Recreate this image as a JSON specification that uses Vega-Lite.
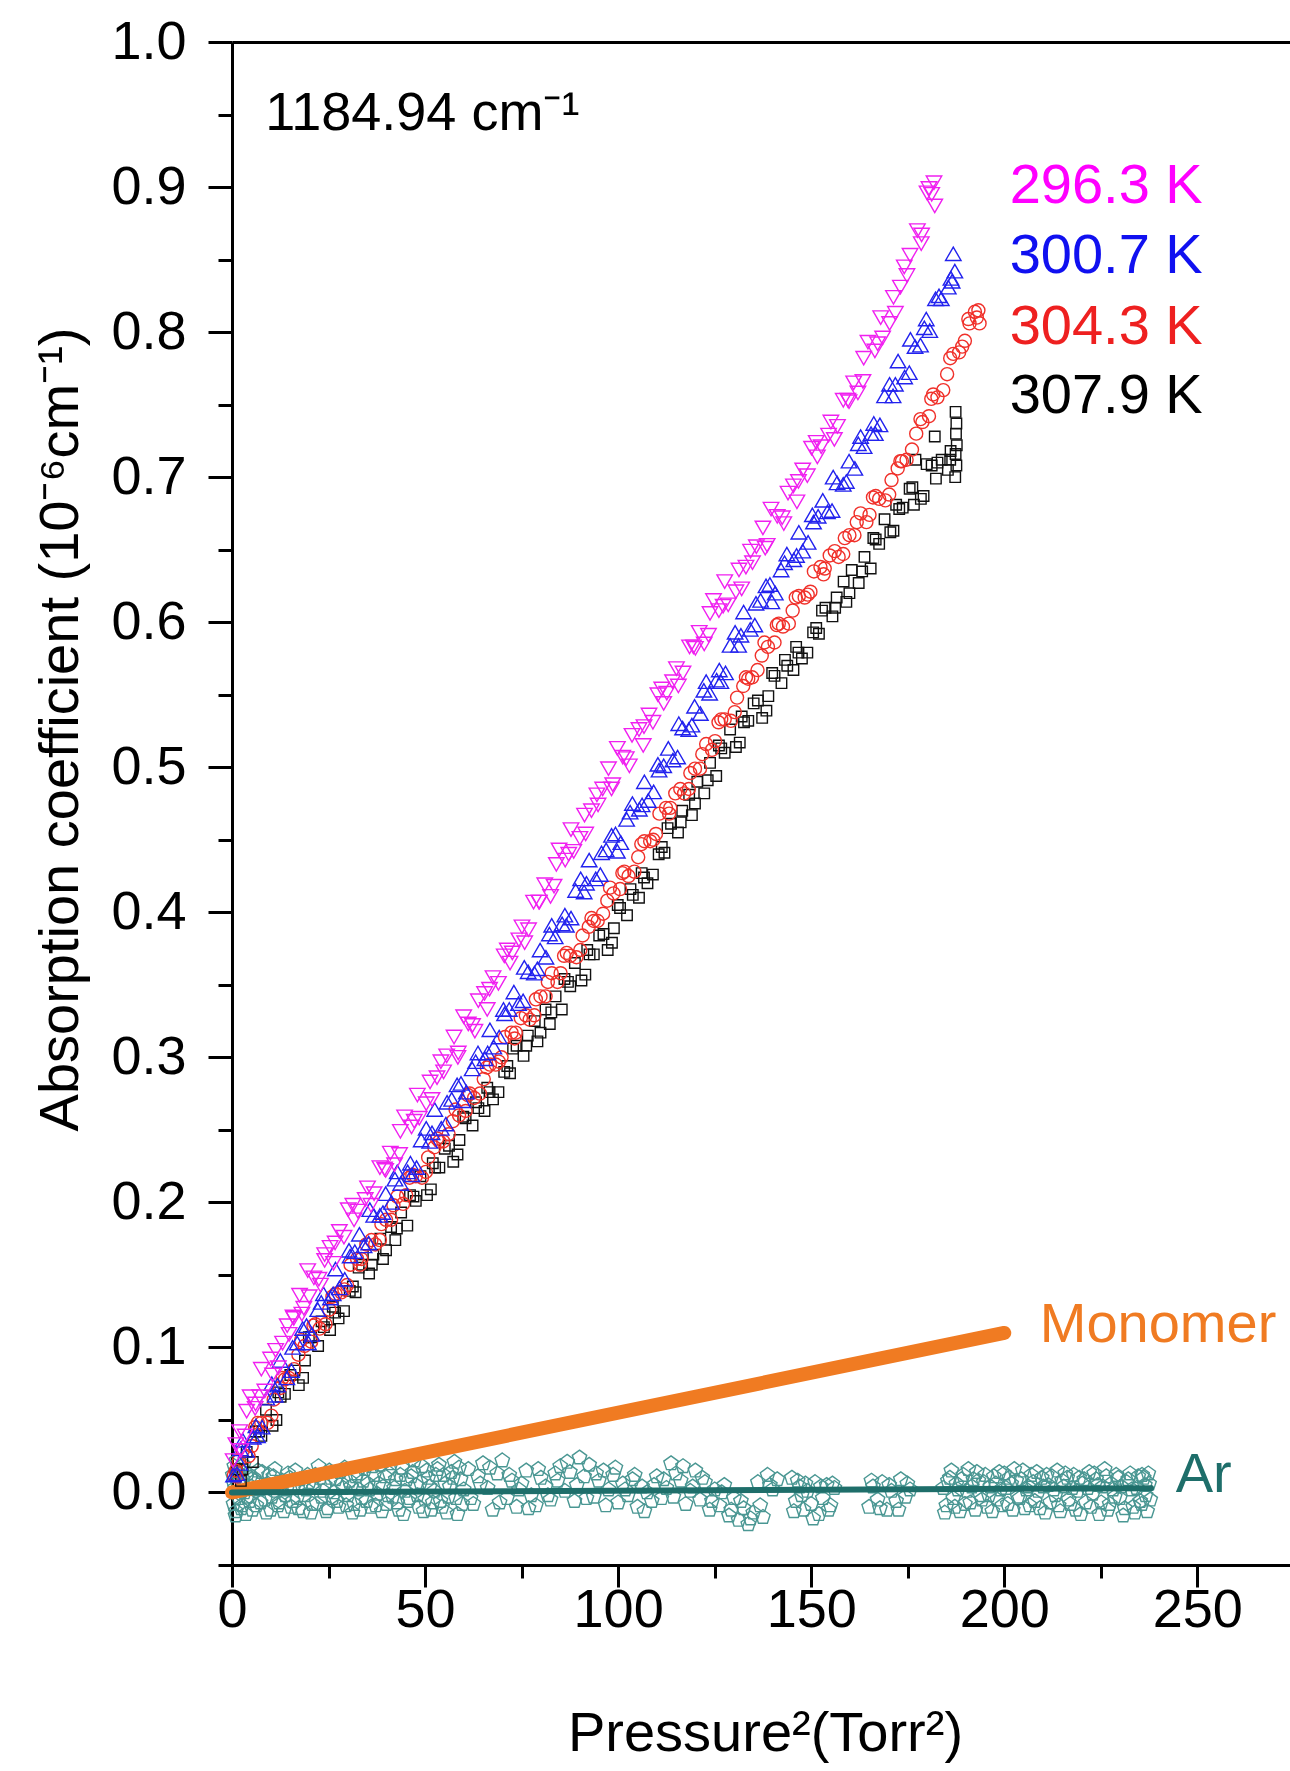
{
"$schema":"https://vega.github.io/schema/vega-lite/v6.json",
"width":1058,"height":1523,
"autosize":{"type":"none"},
"padding":{"left":232,"top":42,"right":0,"bottom":206},
"background":"white",
"config":{"view":{"stroke":null},"font":"Liberation Sans","axis":{"grid":false,"domainColor":"black","tickColor":"black","labelColor":"black","titleColor":"black","domainWidth":3,"tickWidth":3,"labelFont":"Liberation Sans","titleFont":"Liberation Sans","labelFontSize":54,"titleFontSize":56,"titleFontWeight":"normal","labelFlush":false,"labelOverlap":false,"labelBound":false}},
"datasets":{
"m":[{"x":0.3,"y":0.022},{"x":1.0,"y":0.033},{"x":2.0,"y":0.042},{"x":3.4,"y":0.039},{"x":4.7,"y":0.066},{"x":6.0,"y":0.058},{"x":7.2,"y":0.066},{"x":8.5,"y":0.070},{"x":10.0,"y":0.092},{"x":11.3,"y":0.098},{"x":13.1,"y":0.103},{"x":14.8,"y":0.109},{"x":16.0,"y":0.120},{"x":17.5,"y":0.136},{"x":18.6,"y":0.127},{"x":20.0,"y":0.135},{"x":21.2,"y":0.148},{"x":22.9,"y":0.143},{"x":24.0,"y":0.160},{"x":25.4,"y":0.169},{"x":26.7,"y":0.172},{"x":29.0,"y":0.176},{"x":31.3,"y":0.198},{"x":32.6,"y":0.194},{"x":35.1,"y":0.210},{"x":36.8,"y":0.206},{"x":39.5,"y":0.223},{"x":41.0,"y":0.234},{"x":43.4,"y":0.233},{"x":44.7,"y":0.259},{"x":47.2,"y":0.256},{"x":48.5,"y":0.258},{"x":51.3,"y":0.283},{"x":53.1,"y":0.286},{"x":54.8,"y":0.290},{"x":57.5,"y":0.314},{"x":58.6,"y":0.303},{"x":61.2,"y":0.323},{"x":62.9,"y":0.318},{"x":65.4,"y":0.344},{"x":66.7,"y":0.347},{"x":69.0,"y":0.351},{"x":71.3,"y":0.374},{"x":72.6,"y":0.372},{"x":75.1,"y":0.390},{"x":76.8,"y":0.388},{"x":79.5,"y":0.407},{"x":81.0,"y":0.419},{"x":83.4,"y":0.418},{"x":84.7,"y":0.443},{"x":87.2,"y":0.440},{"x":88.5,"y":0.442},{"x":91.3,"y":0.467},{"x":93.1,"y":0.470},{"x":94.8,"y":0.474},{"x":97.5,"y":0.499},{"x":98.6,"y":0.488},{"x":101.2,"y":0.507},{"x":102.9,"y":0.501},{"x":105.4,"y":0.526},{"x":106.7,"y":0.528},{"x":109.0,"y":0.531},{"x":111.3,"y":0.554},{"x":112.6,"y":0.551},{"x":115.1,"y":0.568},{"x":116.8,"y":0.565},{"x":119.5,"y":0.583},{"x":121.0,"y":0.593},{"x":123.4,"y":0.591},{"x":124.7,"y":0.615},{"x":127.2,"y":0.611},{"x":128.5,"y":0.612},{"x":131.3,"y":0.636},{"x":133.1,"y":0.638},{"x":134.8,"y":0.641},{"x":137.5,"y":0.665},{"x":138.6,"y":0.653},{"x":141.2,"y":0.673},{"x":142.9,"y":0.668},{"x":145.4,"y":0.694},{"x":146.7,"y":0.697},{"x":149.0,"y":0.701},{"x":151.3,"y":0.724},{"x":152.6,"y":0.721},{"x":155.1,"y":0.738},{"x":156.8,"y":0.735},{"x":159.5,"y":0.753},{"x":161.0,"y":0.765},{"x":163.4,"y":0.766},{"x":164.7,"y":0.793},{"x":167.2,"y":0.792},{"x":168.5,"y":0.796},{"x":171.3,"y":0.824},{"x":173.1,"y":0.831},{"x":174.8,"y":0.839},{"x":177.5,"y":0.870},{"x":178.6,"y":0.867},{"x":180.5,"y":0.899},{"x":181.2,"y":0.895},{"x":181.8,"y":0.903},{"x":182.0,"y":0.887},
{"x":2.3,"y":0.029},{"x":3.8,"y":0.056},{"x":6.1,"y":0.061},{"x":7.6,"y":0.085},{"x":10.5,"y":0.081},{"x":12.0,"y":0.086},{"x":14.3,"y":0.115},{"x":15.8,"y":0.121},{"x":18.1,"y":0.123},{"x":19.6,"y":0.153},{"x":22.5,"y":0.147},{"x":24.0,"y":0.164},{"x":26.3,"y":0.158},{"x":27.8,"y":0.180},{"x":30.1,"y":0.195},{"x":31.6,"y":0.188},{"x":34.5,"y":0.202},{"x":36.0,"y":0.198},{"x":38.3,"y":0.224},{"x":39.8,"y":0.222},{"x":42.1,"y":0.226},{"x":43.6,"y":0.249},{"x":46.5,"y":0.252},{"x":48.0,"y":0.274},{"x":50.3,"y":0.268},{"x":51.8,"y":0.271},{"x":54.1,"y":0.297},{"x":55.6,"y":0.301},{"x":58.5,"y":0.300},{"x":60.0,"y":0.328},{"x":62.3,"y":0.322},{"x":63.8,"y":0.339},{"x":66.1,"y":0.333},{"x":67.6,"y":0.355},{"x":70.5,"y":0.370},{"x":72.0,"y":0.365},{"x":74.3,"y":0.381},{"x":75.8,"y":0.379},{"x":78.1,"y":0.407},{"x":79.6,"y":0.407},{"x":82.5,"y":0.411},{"x":84.0,"y":0.433},{"x":86.3,"y":0.436},{"x":87.8,"y":0.457},{"x":90.1,"y":0.451},{"x":91.6,"y":0.454},{"x":94.5,"y":0.481},{"x":96.0,"y":0.485},{"x":98.3,"y":0.485},{"x":99.8,"y":0.513},{"x":102.1,"y":0.506},{"x":103.6,"y":0.522},{"x":106.5,"y":0.515},{"x":108.0,"y":0.536},{"x":110.3,"y":0.550},{"x":111.8,"y":0.544},{"x":114.1,"y":0.559},{"x":115.6,"y":0.556},{"x":118.5,"y":0.583},{"x":120.0,"y":0.582},{"x":122.3,"y":0.585},{"x":123.8,"y":0.606},{"x":126.1,"y":0.608},{"x":127.6,"y":0.628},{"x":130.5,"y":0.621},{"x":132.0,"y":0.623},{"x":134.3,"y":0.649},{"x":135.8,"y":0.652},{"x":138.1,"y":0.651},{"x":139.6,"y":0.678},{"x":142.5,"y":0.672},{"x":144.0,"y":0.689},{"x":146.3,"y":0.683},{"x":147.8,"y":0.705},{"x":150.1,"y":0.720},{"x":151.6,"y":0.714},{"x":154.5,"y":0.729},{"x":156.0,"y":0.726},{"x":158.3,"y":0.753},{"x":159.8,"y":0.752},{"x":162.1,"y":0.758},{"x":163.6,"y":0.782},{"x":166.5,"y":0.787},{"x":168.0,"y":0.810},{"x":170.3,"y":0.806},{"x":171.8,"y":0.813},{"x":174.1,"y":0.845},{"x":175.6,"y":0.853},{"x":178.5,"y":0.861},{"x":180.0,"y":0.896}],
"b":[{"x":0.4,"y":0.012},{"x":1.3,"y":0.013},{"x":2.0,"y":0.020},{"x":2.8,"y":0.036},{"x":5.5,"y":0.038},{"x":6.6,"y":0.039},{"x":9.0,"y":0.065},{"x":11.2,"y":0.067},{"x":12.5,"y":0.091},{"x":15.4,"y":0.084},{"x":16.9,"y":0.103},{"x":19.3,"y":0.115},{"x":20.7,"y":0.109},{"x":23.1,"y":0.131},{"x":25.5,"y":0.134},{"x":26.8,"y":0.154},{"x":29.2,"y":0.147},{"x":30.6,"y":0.163},{"x":33.0,"y":0.178},{"x":35.4,"y":0.172},{"x":36.7,"y":0.191},{"x":39.1,"y":0.193},{"x":41.3,"y":0.200},{"x":42.8,"y":0.221},{"x":45.5,"y":0.221},{"x":46.6,"y":0.219},{"x":49.0,"y":0.243},{"x":51.2,"y":0.242},{"x":52.5,"y":0.264},{"x":55.4,"y":0.254},{"x":56.9,"y":0.271},{"x":59.3,"y":0.282},{"x":60.7,"y":0.276},{"x":63.1,"y":0.297},{"x":65.5,"y":0.299},{"x":66.8,"y":0.319},{"x":69.2,"y":0.314},{"x":70.6,"y":0.330},{"x":73.0,"y":0.345},{"x":75.4,"y":0.339},{"x":76.7,"y":0.359},{"x":79.1,"y":0.361},{"x":81.3,"y":0.369},{"x":82.8,"y":0.391},{"x":85.5,"y":0.392},{"x":86.6,"y":0.391},{"x":89.0,"y":0.415},{"x":91.2,"y":0.414},{"x":92.5,"y":0.436},{"x":95.4,"y":0.426},{"x":96.9,"y":0.443},{"x":99.3,"y":0.454},{"x":100.7,"y":0.448},{"x":103.1,"y":0.469},{"x":105.5,"y":0.471},{"x":106.8,"y":0.490},{"x":109.2,"y":0.483},{"x":110.6,"y":0.498},{"x":113.0,"y":0.513},{"x":115.4,"y":0.507},{"x":116.7,"y":0.527},{"x":119.1,"y":0.529},{"x":121.3,"y":0.537},{"x":122.8,"y":0.559},{"x":125.5,"y":0.560},{"x":126.6,"y":0.559},{"x":129.0,"y":0.584},{"x":131.2,"y":0.584},{"x":132.5,"y":0.607},{"x":135.4,"y":0.598},{"x":136.9,"y":0.615},{"x":139.3,"y":0.626},{"x":140.7,"y":0.620},{"x":143.1,"y":0.641},{"x":145.5,"y":0.643},{"x":146.8,"y":0.662},{"x":149.2,"y":0.655},{"x":150.6,"y":0.669},{"x":153.0,"y":0.684},{"x":155.4,"y":0.677},{"x":156.7,"y":0.696},{"x":159.1,"y":0.697},{"x":161.3,"y":0.706},{"x":162.8,"y":0.728},{"x":165.5,"y":0.730},{"x":166.6,"y":0.730},{"x":169.0,"y":0.756},{"x":171.2,"y":0.756},{"x":172.5,"y":0.780},{"x":175.4,"y":0.772},{"x":176.9,"y":0.790},{"x":179.3,"y":0.803},{"x":180.7,"y":0.801},{"x":183.1,"y":0.825},{"x":185.5,"y":0.831},{"x":186.5,"y":0.835},{"x":186.8,"y":0.854},{"x":187.2,"y":0.842},
{"x":2.2,"y":0.030},{"x":3.7,"y":0.029},{"x":6.2,"y":0.046},{"x":7.8,"y":0.045},{"x":10.3,"y":0.075},{"x":11.8,"y":0.074},{"x":14.2,"y":0.079},{"x":15.7,"y":0.100},{"x":18.3,"y":0.113},{"x":19.8,"y":0.103},{"x":22.2,"y":0.126},{"x":23.7,"y":0.137},{"x":26.2,"y":0.137},{"x":27.8,"y":0.141},{"x":30.3,"y":0.167},{"x":31.8,"y":0.166},{"x":34.2,"y":0.170},{"x":35.7,"y":0.195},{"x":38.3,"y":0.191},{"x":39.8,"y":0.206},{"x":42.2,"y":0.216},{"x":43.7,"y":0.213},{"x":46.2,"y":0.227},{"x":47.8,"y":0.224},{"x":50.3,"y":0.251},{"x":51.8,"y":0.248},{"x":54.2,"y":0.251},{"x":55.7,"y":0.269},{"x":58.3,"y":0.281},{"x":59.8,"y":0.270},{"x":62.2,"y":0.292},{"x":63.7,"y":0.303},{"x":66.2,"y":0.303},{"x":67.8,"y":0.307},{"x":70.3,"y":0.333},{"x":71.8,"y":0.333},{"x":74.2,"y":0.337},{"x":75.7,"y":0.362},{"x":78.3,"y":0.358},{"x":79.8,"y":0.374},{"x":82.2,"y":0.385},{"x":83.7,"y":0.383},{"x":86.2,"y":0.398},{"x":87.8,"y":0.396},{"x":90.3,"y":0.423},{"x":91.8,"y":0.420},{"x":94.2,"y":0.423},{"x":95.7,"y":0.441},{"x":98.3,"y":0.453},{"x":99.8,"y":0.442},{"x":102.2,"y":0.464},{"x":103.7,"y":0.475},{"x":106.2,"y":0.474},{"x":107.8,"y":0.477},{"x":110.3,"y":0.502},{"x":111.8,"y":0.501},{"x":114.2,"y":0.505},{"x":115.7,"y":0.530},{"x":118.3,"y":0.526},{"x":119.8,"y":0.542},{"x":122.2,"y":0.553},{"x":123.7,"y":0.551},{"x":126.2,"y":0.567},{"x":127.8,"y":0.565},{"x":130.3,"y":0.593},{"x":131.8,"y":0.591},{"x":134.2,"y":0.595},{"x":135.7,"y":0.613},{"x":138.3,"y":0.625},{"x":139.8,"y":0.614},{"x":142.2,"y":0.636},{"x":143.7,"y":0.647},{"x":146.2,"y":0.646},{"x":147.8,"y":0.649},{"x":150.3,"y":0.674},{"x":151.8,"y":0.673},{"x":154.2,"y":0.676},{"x":155.7,"y":0.700},{"x":158.3,"y":0.695},{"x":159.8,"y":0.711},{"x":162.2,"y":0.723},{"x":163.7,"y":0.721},{"x":166.2,"y":0.737},{"x":167.8,"y":0.736},{"x":170.3,"y":0.764},{"x":171.8,"y":0.764},{"x":174.2,"y":0.769},{"x":175.7,"y":0.795},{"x":178.3,"y":0.791},{"x":179.8,"y":0.809},{"x":182.2,"y":0.823},{"x":183.7,"y":0.823},{"x":186.2,"y":0.837}],
"r":[{"x":0.5,"y":0.012},{"x":1.0,"y":0.015},{"x":1.8,"y":0.022},{"x":4.3,"y":0.025},{"x":6.0,"y":0.045},{"x":7.6,"y":0.048},{"x":10.2,"y":0.053},{"x":12.4,"y":0.072},{"x":13.7,"y":0.078},{"x":16.1,"y":0.085},{"x":17.9,"y":0.105},{"x":20.5,"y":0.104},{"x":21.6,"y":0.116},{"x":24.2,"y":0.116},{"x":26.0,"y":0.135},{"x":28.3,"y":0.138},{"x":29.8,"y":0.143},{"x":32.4,"y":0.161},{"x":33.5,"y":0.161},{"x":36.1,"y":0.174},{"x":38.3,"y":0.174},{"x":39.9,"y":0.188},{"x":41.8,"y":0.198},{"x":44.3,"y":0.199},{"x":46.0,"y":0.217},{"x":47.6,"y":0.218},{"x":50.2,"y":0.221},{"x":52.4,"y":0.238},{"x":53.7,"y":0.242},{"x":56.1,"y":0.247},{"x":57.9,"y":0.264},{"x":60.5,"y":0.263},{"x":61.6,"y":0.275},{"x":64.2,"y":0.275},{"x":66.0,"y":0.293},{"x":68.3,"y":0.295},{"x":69.8,"y":0.300},{"x":72.4,"y":0.317},{"x":73.5,"y":0.317},{"x":76.1,"y":0.329},{"x":78.3,"y":0.329},{"x":79.9,"y":0.342},{"x":81.8,"y":0.352},{"x":84.3,"y":0.352},{"x":86.0,"y":0.370},{"x":87.6,"y":0.370},{"x":90.2,"y":0.374},{"x":92.4,"y":0.390},{"x":93.7,"y":0.394},{"x":96.1,"y":0.399},{"x":97.9,"y":0.417},{"x":100.5,"y":0.416},{"x":101.6,"y":0.428},{"x":104.2,"y":0.428},{"x":106.0,"y":0.447},{"x":108.3,"y":0.449},{"x":109.8,"y":0.454},{"x":112.4,"y":0.472},{"x":113.5,"y":0.472},{"x":116.1,"y":0.485},{"x":118.3,"y":0.485},{"x":119.9,"y":0.499},{"x":121.8,"y":0.509},{"x":124.3,"y":0.512},{"x":126.0,"y":0.531},{"x":127.6,"y":0.533},{"x":130.2,"y":0.538},{"x":132.4,"y":0.556},{"x":133.7,"y":0.561},{"x":136.1,"y":0.567},{"x":137.9,"y":0.586},{"x":140.5,"y":0.586},{"x":141.6,"y":0.599},{"x":144.2,"y":0.599},{"x":146.0,"y":0.617},{"x":148.3,"y":0.617},{"x":149.8,"y":0.621},{"x":152.4,"y":0.638},{"x":153.5,"y":0.637},{"x":156.1,"y":0.649},{"x":158.3,"y":0.647},{"x":159.9,"y":0.660},{"x":161.8,"y":0.669},{"x":164.3,"y":0.669},{"x":166.0,"y":0.686},{"x":167.6,"y":0.685},{"x":170.2,"y":0.688},{"x":172.4,"y":0.706},{"x":173.5,"y":0.711},{"x":176.1,"y":0.719},{"x":178.3,"y":0.740},{"x":180.5,"y":0.742},{"x":181.6,"y":0.757},{"x":184.2,"y":0.760},{"x":186.0,"y":0.782},{"x":188.3,"y":0.786},{"x":189.8,"y":0.794},{"x":191.0,"y":0.806},{"x":192.4,"y":0.814},{"x":193.3,"y":0.815},{"x":193.6,"y":0.806},
{"x":1.2,"y":0.011},{"x":2.8,"y":0.029},{"x":5.1,"y":0.032},{"x":6.7,"y":0.048},{"x":9.2,"y":0.048},{"x":10.8,"y":0.064},{"x":13.1,"y":0.079},{"x":14.7,"y":0.079},{"x":17.2,"y":0.095},{"x":18.8,"y":0.101},{"x":21.1,"y":0.115},{"x":22.7,"y":0.113},{"x":25.2,"y":0.126},{"x":26.8,"y":0.137},{"x":29.1,"y":0.140},{"x":30.7,"y":0.157},{"x":33.2,"y":0.157},{"x":34.8,"y":0.171},{"x":37.1,"y":0.171},{"x":38.7,"y":0.185},{"x":41.2,"y":0.188},{"x":42.8,"y":0.204},{"x":45.1,"y":0.205},{"x":46.7,"y":0.219},{"x":49.2,"y":0.217},{"x":50.8,"y":0.231},{"x":53.1,"y":0.244},{"x":54.7,"y":0.242},{"x":57.2,"y":0.256},{"x":58.8,"y":0.260},{"x":61.1,"y":0.274},{"x":62.7,"y":0.272},{"x":65.2,"y":0.285},{"x":66.8,"y":0.295},{"x":69.1,"y":0.297},{"x":70.7,"y":0.314},{"x":73.2,"y":0.313},{"x":74.8,"y":0.327},{"x":77.1,"y":0.326},{"x":78.7,"y":0.340},{"x":81.2,"y":0.342},{"x":82.8,"y":0.358},{"x":85.1,"y":0.358},{"x":86.7,"y":0.372},{"x":89.2,"y":0.369},{"x":90.8,"y":0.384},{"x":93.1,"y":0.396},{"x":94.7,"y":0.394},{"x":97.2,"y":0.408},{"x":98.8,"y":0.413},{"x":101.1,"y":0.427},{"x":102.7,"y":0.425},{"x":105.2,"y":0.438},{"x":106.8,"y":0.449},{"x":109.1,"y":0.450},{"x":110.7,"y":0.468},{"x":113.2,"y":0.468},{"x":114.8,"y":0.482},{"x":117.1,"y":0.482},{"x":118.7,"y":0.496},{"x":121.2,"y":0.499},{"x":122.8,"y":0.516},{"x":125.1,"y":0.518},{"x":126.7,"y":0.533},{"x":129.2,"y":0.532},{"x":130.8,"y":0.548},{"x":133.1,"y":0.562},{"x":134.7,"y":0.562},{"x":137.2,"y":0.577},{"x":138.8,"y":0.583},{"x":141.1,"y":0.598},{"x":142.7,"y":0.597},{"x":145.2,"y":0.608},{"x":146.8,"y":0.618},{"x":149.1,"y":0.619},{"x":150.7,"y":0.635},{"x":153.2,"y":0.633},{"x":154.8,"y":0.646},{"x":157.1,"y":0.645},{"x":158.7,"y":0.658},{"x":161.2,"y":0.660},{"x":162.8,"y":0.675},{"x":165.1,"y":0.674},{"x":166.7,"y":0.687},{"x":169.2,"y":0.684},{"x":170.8,"y":0.698},{"x":173.1,"y":0.711},{"x":174.7,"y":0.712},{"x":177.2,"y":0.730},{"x":178.8,"y":0.738},{"x":181.1,"y":0.754},{"x":182.7,"y":0.755},{"x":185.2,"y":0.771},{"x":186.8,"y":0.785},{"x":189.1,"y":0.790},{"x":190.7,"y":0.809},{"x":192.9,"y":0.810}],
"k":[{"x":1.2,"y":0.016},{"x":2.7,"y":0.016},{"x":5.4,"y":0.021},{"x":7.0,"y":0.042},{"x":8.8,"y":0.057},{"x":11.5,"y":0.050},{"x":12.6,"y":0.066},{"x":15.1,"y":0.081},{"x":17.3,"y":0.074},{"x":18.9,"y":0.091},{"x":20.5,"y":0.107},{"x":23.2,"y":0.118},{"x":25.4,"y":0.112},{"x":26.7,"y":0.124},{"x":29.0,"y":0.125},{"x":31.3,"y":0.142},{"x":32.8,"y":0.155},{"x":35.5,"y":0.151},{"x":36.6,"y":0.164},{"x":39.1,"y":0.161},{"x":41.2,"y":0.183},{"x":42.7,"y":0.182},{"x":45.4,"y":0.184},{"x":47.0,"y":0.204},{"x":48.8,"y":0.218},{"x":51.5,"y":0.209},{"x":52.6,"y":0.224},{"x":55.1,"y":0.237},{"x":57.3,"y":0.228},{"x":58.9,"y":0.243},{"x":60.5,"y":0.258},{"x":63.2,"y":0.269},{"x":65.4,"y":0.263},{"x":66.7,"y":0.276},{"x":69.0,"y":0.276},{"x":71.3,"y":0.294},{"x":72.8,"y":0.306},{"x":75.5,"y":0.301},{"x":76.6,"y":0.315},{"x":79.1,"y":0.311},{"x":81.2,"y":0.333},{"x":82.7,"y":0.331},{"x":85.4,"y":0.333},{"x":87.0,"y":0.352},{"x":88.8,"y":0.365},{"x":91.5,"y":0.357},{"x":92.6,"y":0.371},{"x":95.1,"y":0.384},{"x":97.3,"y":0.374},{"x":98.9,"y":0.389},{"x":100.5,"y":0.403},{"x":103.2,"y":0.416},{"x":105.4,"y":0.410},{"x":106.7,"y":0.424},{"x":109.0,"y":0.426},{"x":111.3,"y":0.445},{"x":112.8,"y":0.458},{"x":115.5,"y":0.455},{"x":116.6,"y":0.470},{"x":119.1,"y":0.467},{"x":120.5,"y":0.490},{"x":123.2,"y":0.491},{"x":125.4,"y":0.494},{"x":126.7,"y":0.513},{"x":129.0,"y":0.526},{"x":131.5,"y":0.517},{"x":132.6,"y":0.531},{"x":135.1,"y":0.544},{"x":137.3,"y":0.534},{"x":138.9,"y":0.549},{"x":140.5,"y":0.563},{"x":143.2,"y":0.574},{"x":145.4,"y":0.567},{"x":146.7,"y":0.579},{"x":149.0,"y":0.579},{"x":151.3,"y":0.596},{"x":152.8,"y":0.608},{"x":155.5,"y":0.604},{"x":156.6,"y":0.617},{"x":159.1,"y":0.614},{"x":160.5,"y":0.636},{"x":163.2,"y":0.635},{"x":165.4,"y":0.637},{"x":166.7,"y":0.657},{"x":169.0,"y":0.671},{"x":171.3,"y":0.663},{"x":172.8,"y":0.678},{"x":175.5,"y":0.692},{"x":176.6,"y":0.681},{"x":177.0,"y":0.712},{"x":179.1,"y":0.687},{"x":181.2,"y":0.708},{"x":182.0,"y":0.728},{"x":182.7,"y":0.710},{"x":185.4,"y":0.705},{"x":186.0,"y":0.712},{"x":187.3,"y":0.700},{"x":187.6,"y":0.708},{"x":187.4,"y":0.716},{"x":187.7,"y":0.722},{"x":187.5,"y":0.730},{"x":187.6,"y":0.737},{"x":187.4,"y":0.745},
{"x":2.3,"y":0.008},{"x":3.8,"y":0.028},{"x":6.1,"y":0.042},{"x":7.6,"y":0.039},{"x":10.5,"y":0.046},{"x":12.0,"y":0.069},{"x":13.7,"y":0.068},{"x":16.2,"y":0.084},{"x":18.4,"y":0.079},{"x":19.9,"y":0.107},{"x":22.3,"y":0.101},{"x":23.8,"y":0.114},{"x":26.1,"y":0.128},{"x":27.6,"y":0.120},{"x":30.5,"y":0.139},{"x":32.0,"y":0.138},{"x":33.7,"y":0.157},{"x":36.2,"y":0.157},{"x":38.4,"y":0.175},{"x":39.9,"y":0.167},{"x":42.3,"y":0.174},{"x":43.8,"y":0.193},{"x":46.1,"y":0.205},{"x":47.6,"y":0.201},{"x":50.5,"y":0.205},{"x":52.0,"y":0.227},{"x":53.7,"y":0.224},{"x":56.2,"y":0.239},{"x":58.4,"y":0.233},{"x":59.9,"y":0.259},{"x":62.3,"y":0.253},{"x":63.8,"y":0.265},{"x":66.1,"y":0.279},{"x":67.6,"y":0.271},{"x":70.5,"y":0.290},{"x":72.0,"y":0.289},{"x":73.7,"y":0.308},{"x":76.2,"y":0.308},{"x":78.4,"y":0.325},{"x":79.9,"y":0.317},{"x":82.3,"y":0.323},{"x":83.8,"y":0.342},{"x":86.1,"y":0.354},{"x":87.6,"y":0.349},{"x":90.5,"y":0.353},{"x":92.0,"y":0.374},{"x":93.7,"y":0.371},{"x":96.2,"y":0.385},{"x":98.4,"y":0.379},{"x":99.9,"y":0.405},{"x":102.3,"y":0.398},{"x":103.8,"y":0.412},{"x":106.1,"y":0.427},{"x":107.6,"y":0.420},{"x":110.5,"y":0.440},{"x":112.0,"y":0.441},{"x":113.7,"y":0.461},{"x":116.2,"y":0.462},{"x":118.4,"y":0.481},{"x":119.9,"y":0.475},{"x":122.3,"y":0.482},{"x":123.8,"y":0.503},{"x":126.1,"y":0.515},{"x":127.6,"y":0.510},{"x":130.5,"y":0.514},{"x":132.0,"y":0.535},{"x":133.7,"y":0.532},{"x":136.2,"y":0.546},{"x":138.4,"y":0.539},{"x":139.9,"y":0.565},{"x":142.3,"y":0.558},{"x":143.8,"y":0.570},{"x":146.1,"y":0.583},{"x":147.6,"y":0.575},{"x":150.5,"y":0.593},{"x":152.0,"y":0.592},{"x":153.7,"y":0.610},{"x":156.2,"y":0.610},{"x":158.4,"y":0.628},{"x":159.9,"y":0.620},{"x":162.3,"y":0.627},{"x":163.8,"y":0.645},{"x":166.1,"y":0.658},{"x":167.6,"y":0.654},{"x":170.5,"y":0.662},{"x":172.0,"y":0.681},{"x":173.7,"y":0.679},{"x":176.2,"y":0.693},{"x":178.4,"y":0.685},{"x":179.9,"y":0.709},{"x":182.3,"y":0.699},{"x":183.8,"y":0.712},{"x":186.1,"y":0.718}],
"ar":[{"x":0.2,"y":0.012},{"x":0.4,"y":-0.008},{"x":0.6,"y":0.018},{"x":0.8,"y":0.003},{"x":1.0,"y":-0.013},{"x":1.2,"y":0.022},{"x":1.5,"y":0.006},{"x":1.8,"y":-0.004},{"x":2.1,"y":0.015},{"x":2.4,"y":-0.011},{"x":2.8,"y":0.009},{"x":3.2,"y":0.000},{"x":3.6,"y":-0.015},{"x":4.0,"y":0.013},{"x":4.5,"y":-0.006},{"x":5.0,"y":0.004},{"x":5.6,"y":0.010},{"x":6.3,"y":-0.009},{"x":7.0,"y":0.002},{"x":7.8,"y":0.014},{"x":8.5,"y":-0.005},{"x":9.2,"y":0.006},{"x":10.0,"y":-0.012},{"x":10.7,"y":0.011},{"x":11.5,"y":0.001},{"x":12.2,"y":-0.007},{"x":13.0,"y":0.008},{"x":13.8,"y":-0.002},{"x":14.5,"y":0.013},{"x":15.3,"y":-0.010},{"x":16.0,"y":0.004},{"x":16.8,"y":-0.004},{"x":17.6,"y":0.009},{"x":18.4,"y":-0.013},{"x":19.2,"y":0.002},{"x":20.0,"y":0.007},{"x":20.8,"y":-0.008},{"x":21.6,"y":0.012},{"x":22.4,"y":0.018},{"x":23.2,"y":-0.003},{"x":24.0,"y":0.005},{"x":24.8,"y":-0.011},{"x":25.6,"y":0.010},{"x":26.4,"y":0.000},{"x":27.2,"y":-0.006},{"x":28.0,"y":0.014},{"x":28.8,"y":0.003},{"x":29.6,"y":-0.009},{"x":30.4,"y":0.008},{"x":31.2,"y":-0.014},{"x":32.0,"y":0.011},{"x":32.8,"y":0.002},{"x":33.6,"y":-0.004},{"x":34.4,"y":0.016},{"x":35.2,"y":0.006},{"x":36.0,"y":-0.010},{"x":36.8,"y":0.012},{"x":37.6,"y":-0.001},{"x":38.4,"y":0.019},{"x":39.2,"y":0.004},{"x":40.0,"y":-0.008},{"x":40.8,"y":0.013},{"x":41.6,"y":-0.003},{"x":42.4,"y":0.009},{"x":43.2,"y":-0.012},{"x":44.0,"y":0.017},{"x":44.8,"y":0.001},{"x":45.6,"y":-0.006},{"x":46.4,"y":0.011},{"x":47.2,"y":0.022},{"x":48.0,"y":-0.002},{"x":48.8,"y":0.007},{"x":49.6,"y":-0.013},{"x":50.4,"y":0.015},{"x":51.2,"y":0.004},{"x":52.0,"y":-0.007},{"x":52.8,"y":0.012},{"x":53.6,"y":0.019},{"x":54.4,"y":-0.010},{"x":55.2,"y":0.006},{"x":56.0,"y":-0.003},{"x":56.8,"y":0.014},{"x":57.6,"y":0.021},{"x":58.4,"y":-0.015},{"x":59.2,"y":0.009},{"x":60.0,"y":0.002},{"x":61.2,"y":0.016},{"x":62.5,"y":-0.008},{"x":63.7,"y":0.011},{"x":65.0,"y":0.020},{"x":66.2,"y":0.003},{"x":67.5,"y":-0.012},{"x":68.7,"y":0.013},{"x":70.0,"y":0.022},{"x":71.2,"y":-0.004},{"x":72.5,"y":0.008},{"x":73.7,"y":-0.010},{"x":75.0,"y":0.006},{"x":76.2,"y":0.015},{"x":77.5,"y":-0.002},{"x":78.7,"y":-0.009},{"x":80.0,"y":0.010},{"x":81.2,"y":0.004},{"x":82.5,"y":-0.005},{"x":83.7,"y":0.013},{"x":85.0,"y":0.018},{"x":86.2,"y":0.001},{"x":87.5,"y":0.014},{"x":88.7,"y":-0.006},{"x":90.0,"y":0.024},{"x":91.2,"y":0.011},{"x":92.5,"y":0.019},{"x":93.7,"y":-0.003},{"x":95.0,"y":0.008},{"x":96.2,"y":0.015},{"x":97.5,"y":0.002},{"x":98.7,"y":0.012},{"x":100.0,"y":-0.007},{"x":101.2,"y":0.006},{"x":102.5,"y":-0.002},{"x":103.7,"y":0.009},{"x":105.0,"y":-0.010},{"x":106.2,"y":0.004},{"x":107.5,"y":0.000},{"x":108.7,"y":-0.006},{"x":110.0,"y":0.011},{"x":111.2,"y":-0.004},{"x":112.5,"y":0.003},{"x":113.7,"y":0.020},{"x":115.0,"y":0.013},{"x":116.2,"y":0.008},{"x":117.5,"y":-0.008},{"x":118.7,"y":0.001},{"x":120.0,"y":0.015},{"x":121.2,"y":-0.005},{"x":122.5,"y":0.007},{"x":123.7,"y":-0.012},{"x":125.0,"y":0.002},{"x":126.2,"y":-0.009},{"x":127.5,"y":0.005},{"x":128.7,"y":-0.016},{"x":130.0,"y":-0.004},{"x":131.2,"y":-0.019},{"x":132.5,"y":-0.011},{"x":133.7,"y":-0.022},{"x":135.0,"y":-0.014},{"x":136.2,"y":0.007},{"x":137.5,"y":-0.017},{"x":138.7,"y":0.012},{"x":140.0,"y":0.002},{"x":141.2,"y":0.009},{"x":145.0,"y":0.010},{"x":146.0,"y":-0.006},{"x":147.0,"y":0.004},{"x":148.0,"y":-0.012},{"x":149.0,"y":0.001},{"x":150.0,"y":-0.008},{"x":151.0,"y":0.007},{"x":152.0,"y":-0.015},{"x":153.0,"y":-0.004},{"x":154.0,"y":0.005},{"x":155.0,"y":-0.009},{"x":156.0,"y":0.003},{"x":165.0,"y":-0.010},{"x":166.0,"y":0.004},{"x":167.2,"y":-0.005},{"x":168.4,"y":0.007},{"x":169.6,"y":-0.012},{"x":170.8,"y":0.001},{"x":172.0,"y":-0.006},{"x":173.2,"y":0.009},{"x":174.4,"y":-0.003},{"x":175.6,"y":0.002},{"x":184.2,"y":0.003},{"x":185.0,"y":-0.009},{"x":185.9,"y":0.010},{"x":186.8,"y":-0.004},{"x":187.6,"y":0.006},{"x":188.5,"y":-0.013},{"x":189.4,"y":0.012},{"x":190.3,"y":0.001},{"x":191.2,"y":-0.007},{"x":192.0,"y":0.009},{"x":192.9,"y":0.014},{"x":193.8,"y":-0.002},{"x":194.7,"y":0.007},{"x":195.6,"y":-0.010},{"x":196.4,"y":0.004},{"x":197.3,"y":0.011},{"x":198.2,"y":-0.005},{"x":199.1,"y":0.002},{"x":200.0,"y":0.013},{"x":200.9,"y":-0.008},{"x":201.8,"y":0.006},{"x":202.6,"y":0.016},{"x":203.5,"y":-0.003},{"x":204.4,"y":0.009},{"x":205.3,"y":-0.011},{"x":206.2,"y":0.004},{"x":207.0,"y":0.012},{"x":207.9,"y":-0.006},{"x":208.8,"y":0.001},{"x":209.7,"y":0.010},{"x":210.6,"y":-0.014},{"x":211.4,"y":0.005},{"x":212.3,"y":0.011},{"x":213.2,"y":-0.002},{"x":214.1,"y":-0.009},{"x":215.0,"y":0.008},{"x":215.8,"y":0.013},{"x":216.7,"y":-0.005},{"x":217.6,"y":0.003},{"x":218.5,"y":-0.012},{"x":219.4,"y":0.010},{"x":220.2,"y":0.006},{"x":221.1,"y":-0.007},{"x":222.0,"y":0.014},{"x":222.9,"y":-0.001},{"x":223.8,"y":0.009},{"x":224.6,"y":-0.015},{"x":225.5,"y":0.004},{"x":226.4,"y":0.011},{"x":227.3,"y":-0.008},{"x":228.2,"y":0.002},{"x":229.0,"y":0.012},{"x":229.9,"y":-0.004},{"x":230.8,"y":-0.016},{"x":231.7,"y":0.007},{"x":232.6,"y":0.013},{"x":233.4,"y":-0.010},{"x":234.3,"y":0.003},{"x":235.2,"y":-0.006},{"x":235.7,"y":0.012},{"x":236.1,"y":0.010},{"x":236.6,"y":-0.002},{"x":237.0,"y":-0.013},{"x":237.5,"y":0.006},
{"x":0.5,"y":0.006},{"x":0.9,"y":-0.016},{"x":1.4,"y":0.014},{"x":1.9,"y":0.001},{"x":2.6,"y":-0.009},{"x":3.0,"y":0.019},{"x":3.9,"y":-0.003},{"x":4.7,"y":0.010},{"x":5.3,"y":-0.012},{"x":6.0,"y":0.008},{"x":6.7,"y":0.015},{"x":7.4,"y":-0.007},{"x":8.1,"y":0.004},{"x":8.9,"y":-0.014},{"x":9.6,"y":0.012},{"x":10.3,"y":-0.003},{"x":11.1,"y":0.016},{"x":11.9,"y":-0.009},{"x":12.6,"y":0.005},{"x":13.4,"y":-0.013},{"x":14.1,"y":0.002},{"x":14.9,"y":0.010},{"x":15.7,"y":-0.006},{"x":16.4,"y":0.015},{"x":17.2,"y":-0.011},{"x":18.0,"y":0.006},{"x":18.8,"y":-0.002},{"x":19.6,"y":0.012},{"x":20.4,"y":-0.014},{"x":21.2,"y":0.003},{"x":22.0,"y":-0.008},{"x":22.8,"y":0.010},{"x":23.6,"y":0.001},{"x":24.4,"y":-0.013},{"x":25.2,"y":0.015},{"x":26.0,"y":-0.004},{"x":26.8,"y":0.009},{"x":27.6,"y":-0.010},{"x":28.4,"y":0.006},{"x":29.2,"y":0.017},{"x":30.0,"y":-0.002},{"x":30.8,"y":0.004},{"x":31.6,"y":-0.008},{"x":32.4,"y":0.013},{"x":33.2,"y":-0.012},{"x":34.0,"y":0.008},{"x":34.8,"y":-0.006},{"x":35.6,"y":0.002},{"x":36.4,"y":0.018},{"x":37.2,"y":-0.009},{"x":38.0,"y":0.006},{"x":38.8,"y":-0.013},{"x":39.6,"y":0.011},{"x":40.4,"y":-0.002},{"x":41.2,"y":0.020},{"x":42.0,"y":0.003},{"x":42.8,"y":-0.007},{"x":43.6,"y":0.012},{"x":44.4,"y":-0.015},{"x":45.2,"y":0.009},{"x":46.0,"y":-0.004},{"x":46.8,"y":0.014},{"x":47.6,"y":0.005},{"x":48.4,"y":-0.010},{"x":49.2,"y":0.018},{"x":50.0,"y":-0.005},{"x":50.8,"y":0.010},{"x":51.6,"y":-0.012},{"x":52.4,"y":0.001},{"x":53.2,"y":0.016},{"x":54.0,"y":-0.006},{"x":54.8,"y":0.012},{"x":55.6,"y":-0.014},{"x":56.4,"y":0.004},{"x":57.2,"y":0.010},{"x":58.0,"y":-0.004},{"x":58.8,"y":0.017},{"x":59.6,"y":-0.008},{"x":61.8,"y":-0.004},{"x":64.3,"y":0.006},{"x":66.8,"y":0.017},{"x":69.3,"y":-0.007},{"x":71.8,"y":0.012},{"x":74.3,"y":0.002},{"x":76.8,"y":-0.011},{"x":79.3,"y":0.016},{"x":81.8,"y":-0.002},{"x":84.3,"y":0.008},{"x":86.8,"y":0.021},{"x":89.3,"y":0.005},{"x":91.8,"y":-0.004},{"x":94.3,"y":0.013},{"x":96.8,"y":-0.009},{"x":99.3,"y":0.017},{"x":101.8,"y":0.002},{"x":104.3,"y":0.012},{"x":106.8,"y":-0.013},{"x":109.3,"y":0.005},{"x":111.8,"y":0.009},{"x":114.3,"y":-0.003},{"x":116.8,"y":0.018},{"x":119.3,"y":0.004},{"x":121.8,"y":0.010},{"x":124.3,"y":-0.006},{"x":126.8,"y":0.000},{"x":129.3,"y":-0.012},{"x":131.8,"y":-0.006},{"x":134.3,"y":-0.018},{"x":136.8,"y":-0.009},{"x":139.3,"y":0.005},{"x":145.5,"y":-0.013},{"x":146.5,"y":0.008},{"x":147.5,"y":-0.002},{"x":148.5,"y":0.006},{"x":150.5,"y":-0.018},{"x":152.5,"y":0.004},{"x":154.5,"y":-0.012},{"x":155.5,"y":0.006},{"x":165.6,"y":0.008},{"x":167.8,"y":-0.011},{"x":170.2,"y":0.005},{"x":172.6,"y":-0.012},{"x":174.9,"y":0.006},{"x":184.6,"y":-0.014},{"x":185.4,"y":0.008},{"x":186.3,"y":0.015},{"x":187.2,"y":-0.010},{"x":188.0,"y":0.002},{"x":188.9,"y":0.009},{"x":189.8,"y":-0.008},{"x":190.7,"y":0.016},{"x":191.6,"y":0.004},{"x":192.5,"y":-0.012},{"x":193.3,"y":0.008},{"x":194.2,"y":-0.005},{"x":195.1,"y":0.012},{"x":196.0,"y":-0.002},{"x":196.9,"y":-0.013},{"x":197.8,"y":0.006},{"x":198.7,"y":0.014},{"x":199.5,"y":-0.009},{"x":200.4,"y":0.003},{"x":201.3,"y":0.010},{"x":202.2,"y":-0.012},{"x":203.1,"y":0.008},{"x":204.0,"y":-0.004},{"x":204.8,"y":0.015},{"x":205.7,"y":0.002},{"x":206.6,"y":-0.009},{"x":207.5,"y":0.007},{"x":208.4,"y":0.014},{"x":209.2,"y":-0.011},{"x":210.1,"y":0.004},{"x":211.0,"y":0.012},{"x":211.9,"y":-0.007},{"x":212.8,"y":0.002},{"x":213.7,"y":0.015},{"x":214.5,"y":-0.013},{"x":215.4,"y":0.004},{"x":216.3,"y":0.010},{"x":217.1,"y":-0.008},{"x":218.0,"y":0.012},{"x":218.9,"y":0.001},{"x":219.8,"y":-0.015},{"x":220.7,"y":0.009},{"x":221.6,"y":0.003},{"x":222.5,"y":-0.010},{"x":223.3,"y":0.013},{"x":224.2,"y":0.005},{"x":225.1,"y":-0.007},{"x":226.0,"y":0.016},{"x":226.8,"y":-0.012},{"x":227.7,"y":0.006},{"x":228.6,"y":-0.003},{"x":229.5,"y":0.010},{"x":230.3,"y":0.004},{"x":231.2,"y":-0.011},{"x":232.1,"y":0.009},{"x":233.0,"y":0.002},{"x":233.8,"y":-0.014},{"x":234.7,"y":0.011},{"x":235.6,"y":-0.008},{"x":236.4,"y":0.005},{"x":237.3,"y":0.013},{"x":237.8,"y":-0.005}],
"mono":[{"x":0,"y":0.0},{"x":200,"y":0.110}],
"arline":[{"x":0,"y":0.0},{"x":238,"y":0.003}]
},
"resolve":{"axis":{"x":"independent","y":"independent"}},
"layer":[
{"data":{"name":"ar"},"mark":{"type":"point","shape":"M0,-1L0.951,-0.309L0.588,0.809L-0.588,0.809L-0.951,-0.309Z","filled":false,"stroke":"#4A9793","strokeWidth":1.4,"size":230,"opacity":1},
 "encoding":{"x":{"field":"x","type":"quantitative","scale":{"domain":[0,274],"nice":false,"zero":false},"axis":null},"y":{"field":"y","type":"quantitative","scale":{"domain":[-0.05,1.0],"nice":false,"zero":false},"axis":null}}},
{"data":{"name":"mono"},"mark":{"type":"line","color":"#F07B22","strokeWidth":14,"strokeCap":"round"},
 "encoding":{"x":{"field":"x","type":"quantitative","axis":{"orient":"top","labels":false,"ticks":false,"title":null,"domain":true}},"y":{"field":"y","type":"quantitative","axis":null}}},
{"data":{"name":"arline"},"mark":{"type":"line","color":"#1E6E6A","strokeWidth":6,"strokeCap":"round"},
 "encoding":{"x":{"field":"x","type":"quantitative","axis":{"orient":"bottom","values":[25,75,125,175,225],"labels":false,"domain":false,"tickSize":13,"title":null}},"y":{"field":"y","type":"quantitative","axis":{"orient":"left","values":[-0.05,0.05,0.15,0.25,0.35,0.45,0.55,0.65,0.75,0.85,0.95],"labels":false,"domain":false,"tickSize":14,"title":null}}}},
{"data":{"name":"k"},"mark":{"type":"point","shape":"square","filled":false,"stroke":"#111111","strokeWidth":1.4,"size":110,"opacity":1},
 "encoding":{"x":{"field":"x","type":"quantitative","axis":null},"y":{"field":"y","type":"quantitative","axis":null}}},
{"data":{"name":"r"},"mark":{"type":"point","shape":"circle","filled":false,"stroke":"#F0302A","strokeWidth":1.4,"size":170,"opacity":1},
 "encoding":{"x":{"field":"x","type":"quantitative","axis":null},"y":{"field":"y","type":"quantitative","axis":null}}},
{"data":{"name":"b"},"mark":{"type":"point","shape":"triangle-up","filled":false,"stroke":"#2222EE","strokeWidth":1.4,"size":240,"opacity":1},
 "encoding":{"x":{"field":"x","type":"quantitative","axis":null},"y":{"field":"y","type":"quantitative","axis":null}}},
{"data":{"name":"m"},"mark":{"type":"point","shape":"triangle-down","filled":false,"stroke":"#F020F0","strokeWidth":1.4,"size":240,"opacity":1},
 "encoding":{"x":{"field":"x","type":"quantitative","axis":{"orient":"bottom","values":[0,50,100,150,200,250],"tickSize":22,"labelPadding":-4,"title":"Pressure²(Torr²)","titleX":533,"titleY":185,"titleBaseline":"alphabetic","titleAnchor":"middle","titleAlign":"center"}},
  "y":{"field":"y","type":"quantitative","axis":{"orient":"left","values":[0,0.1,0.2,0.3,0.4,0.5,0.6,0.7,0.8,0.9,1.0],"format":".1f","tickSize":24,"labelPadding":22,"title":"Absorption coefficient (10⁻⁶cm⁻¹)","titleX":-155,"titleY":687,"titleAngle":-90,"titleBaseline":"alphabetic","titleAlign":"center"}}}},
{"data":{"values":[{}]},"mark":{"type":"text","align":"left","baseline":"alphabetic","fontSize":54,"font":"Liberation Sans","color":"black"},"encoding":{"x":{"datum":8.6,"axis":null},"y":{"datum":0.939,"axis":null},"text":{"value":"1184.94 cm⁻¹"}}},
{"data":{"values":[{}]},"mark":{"type":"text","align":"left","baseline":"alphabetic","fontSize":56,"font":"Liberation Sans","color":"#FF00FF"},"encoding":{"x":{"datum":201.4,"axis":null},"y":{"datum":0.889,"axis":null},"text":{"value":"296.3 K"}}},
{"data":{"values":[{}]},"mark":{"type":"text","align":"left","baseline":"alphabetic","fontSize":56,"font":"Liberation Sans","color":"#1010F0"},"encoding":{"x":{"datum":201.4,"axis":null},"y":{"datum":0.841,"axis":null},"text":{"value":"300.7 K"}}},
{"data":{"values":[{}]},"mark":{"type":"text","align":"left","baseline":"alphabetic","fontSize":56,"font":"Liberation Sans","color":"#EE2020"},"encoding":{"x":{"datum":201.4,"axis":null},"y":{"datum":0.792,"axis":null},"text":{"value":"304.3 K"}}},
{"data":{"values":[{}]},"mark":{"type":"text","align":"left","baseline":"alphabetic","fontSize":56,"font":"Liberation Sans","color":"black"},"encoding":{"x":{"datum":201.4,"axis":null},"y":{"datum":0.744,"axis":null},"text":{"value":"307.9 K"}}},
{"data":{"values":[{}]},"mark":{"type":"text","align":"left","baseline":"alphabetic","fontSize":56,"font":"Liberation Sans","color":"#F07B22"},"encoding":{"x":{"datum":209.2,"axis":null},"y":{"datum":0.104,"axis":null},"text":{"value":"Monomer"}}},
{"data":{"values":[{}]},"mark":{"type":"text","align":"left","baseline":"alphabetic","fontSize":56,"font":"Liberation Sans","color":"#1E6E6A"},"encoding":{"x":{"datum":244.4,"axis":null},"y":{"datum":0.0,"axis":null},"text":{"value":"Ar"}}}
]
}
